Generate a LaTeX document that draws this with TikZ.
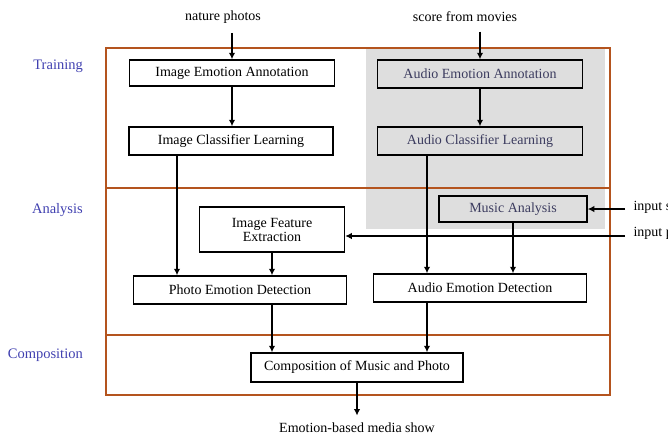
\documentclass[tikz,border=0pt]{standalone}
\usepackage{fontspec}
\setmainfont{Liberation Serif}
\usetikzlibrary{arrows.meta}

\definecolor{framecol}{RGB}{180,84,30}
\definecolor{stagecol}{RGB}{64,64,176}
\definecolor{shadecol}{RGB}{222,222,222}
\definecolor{softcol}{RGB}{60,60,95}

\tikzset{
  box/.style={draw,line width=1.5pt,fill=white,inner sep=2pt,
    font=\fontsize{14}{15}\selectfont},
  graybox/.style={box,fill=none,text=softcol},
  arr/.style={line width=1.7pt,-{Latex[length=6.5pt,width=6.5pt]}},
  stage/.style={anchor=east,inner sep=0pt,text=stagecol,font=\fontsize{14.5}{16}\selectfont},
  plain/.style={font=\fontsize{14}{16}\selectfont},
}

\begin{document}
\begin{tikzpicture}[x=1pt,y=-1pt]
  \useasboundingbox (0,0) rectangle (668,437);
  \clip (0,0) rectangle (668,437);

  % shaded audio part
  \fill[shadecol] (366,48) rectangle (605,229);

  % stages
  \draw[framecol,line width=1.3pt] (106,48) rectangle (610,395);
  \draw[framecol,line width=1.3pt] (106,188) -- (610,188);
  \draw[framecol,line width=1.3pt] (106,335) -- (610,335);

  \node[stage] (t) at (83,66)  {Training};
  \node[stage] (a) at (83,210) {Analysis};
  \node[stage] (c) at (83,355) {Composition};

  \begin{scope}[every node/.style={box}]
    \node[minimum width=205pt,minimum height=26pt] (1) at (232,73)  {Image Emotion Annotation};
    \node[minimum width=204pt,minimum height=28pt] (2) at (231,141) {Image Classifier Learning};
    \node[graybox,minimum width=205pt,minimum height=28pt] (3) at (480,74)  {Audio Emotion Annotation};
    \node[graybox,minimum width=205pt,minimum height=28pt] (4) at (480,141) {Audio Classifier Learning};
    \node[graybox,minimum width=148pt,minimum height=26pt] (5) at (513,209) {Music Analysis};
    \node[minimum width=145pt,minimum height=45pt,align=center] (6) at (272,229.5) {Image Feature\\[-1pt]Extraction};
    \node[minimum width=213pt,minimum height=28pt] (7) at (240,290) {Photo Emotion Detection};
    \node[minimum width=213pt,minimum height=28pt] (8) at (480,288) {Audio Emotion Detection};
    \node[minimum width=212pt,minimum height=29pt] (9) at (357,367.5) {Composition of Music and Photo};
  \end{scope}

  \node[plain] (n1) at (223,17)  {nature photos};
  \node[plain] (n2) at (465,17)  {score from movies};
  \node[plain] (n3) at (357,428) {Emotion-based media show};
  \node[plain,anchor=west] (s) at (630,207) {input song};
  \node[plain,anchor=west] (p) at (630,233) {input photos};
  \coordinate (in1) at (625,209);
  \coordinate (in2) at (625,236);

  \draw[arr,shorten <=6pt] (n1.south -| 1.north) -- (1.north);
  \draw[arr,shorten <=6pt] (n2.south -| 3.north) -- (3.north);
  \draw[arr] (1.south) -- (1.south |- 2.north);
  \draw[arr] (3.south) -- (3.south |- 4.north);
  \draw[arr] ([xshift=-54pt]2.south) -- ([xshift=-54pt]2.south |- 7.north);
  \draw[arr] (6.south) -- (6.south |- 7.north);
  \draw[arr] (7.south -| 6.south) -- (6.south |- 9.north);
  \draw[arr] ([xshift=-53pt]4.south) -- ([xshift=-53pt]4.south |- 8.north);
  \draw[arr] (5.south) -- (5.south |- 8.north);
  \draw[arr] ([xshift=-53pt]8.south) -- ([xshift=-53pt]8.south |- 9.north);
  \draw[arr,shorten >=4pt] (9.south -| n3.north) -- (n3.north);
  \draw[arr] (in1) -- (5.east);
  \draw[arr] (in2) -- (in2 -| 6.east);
\end{tikzpicture}
\end{document}
